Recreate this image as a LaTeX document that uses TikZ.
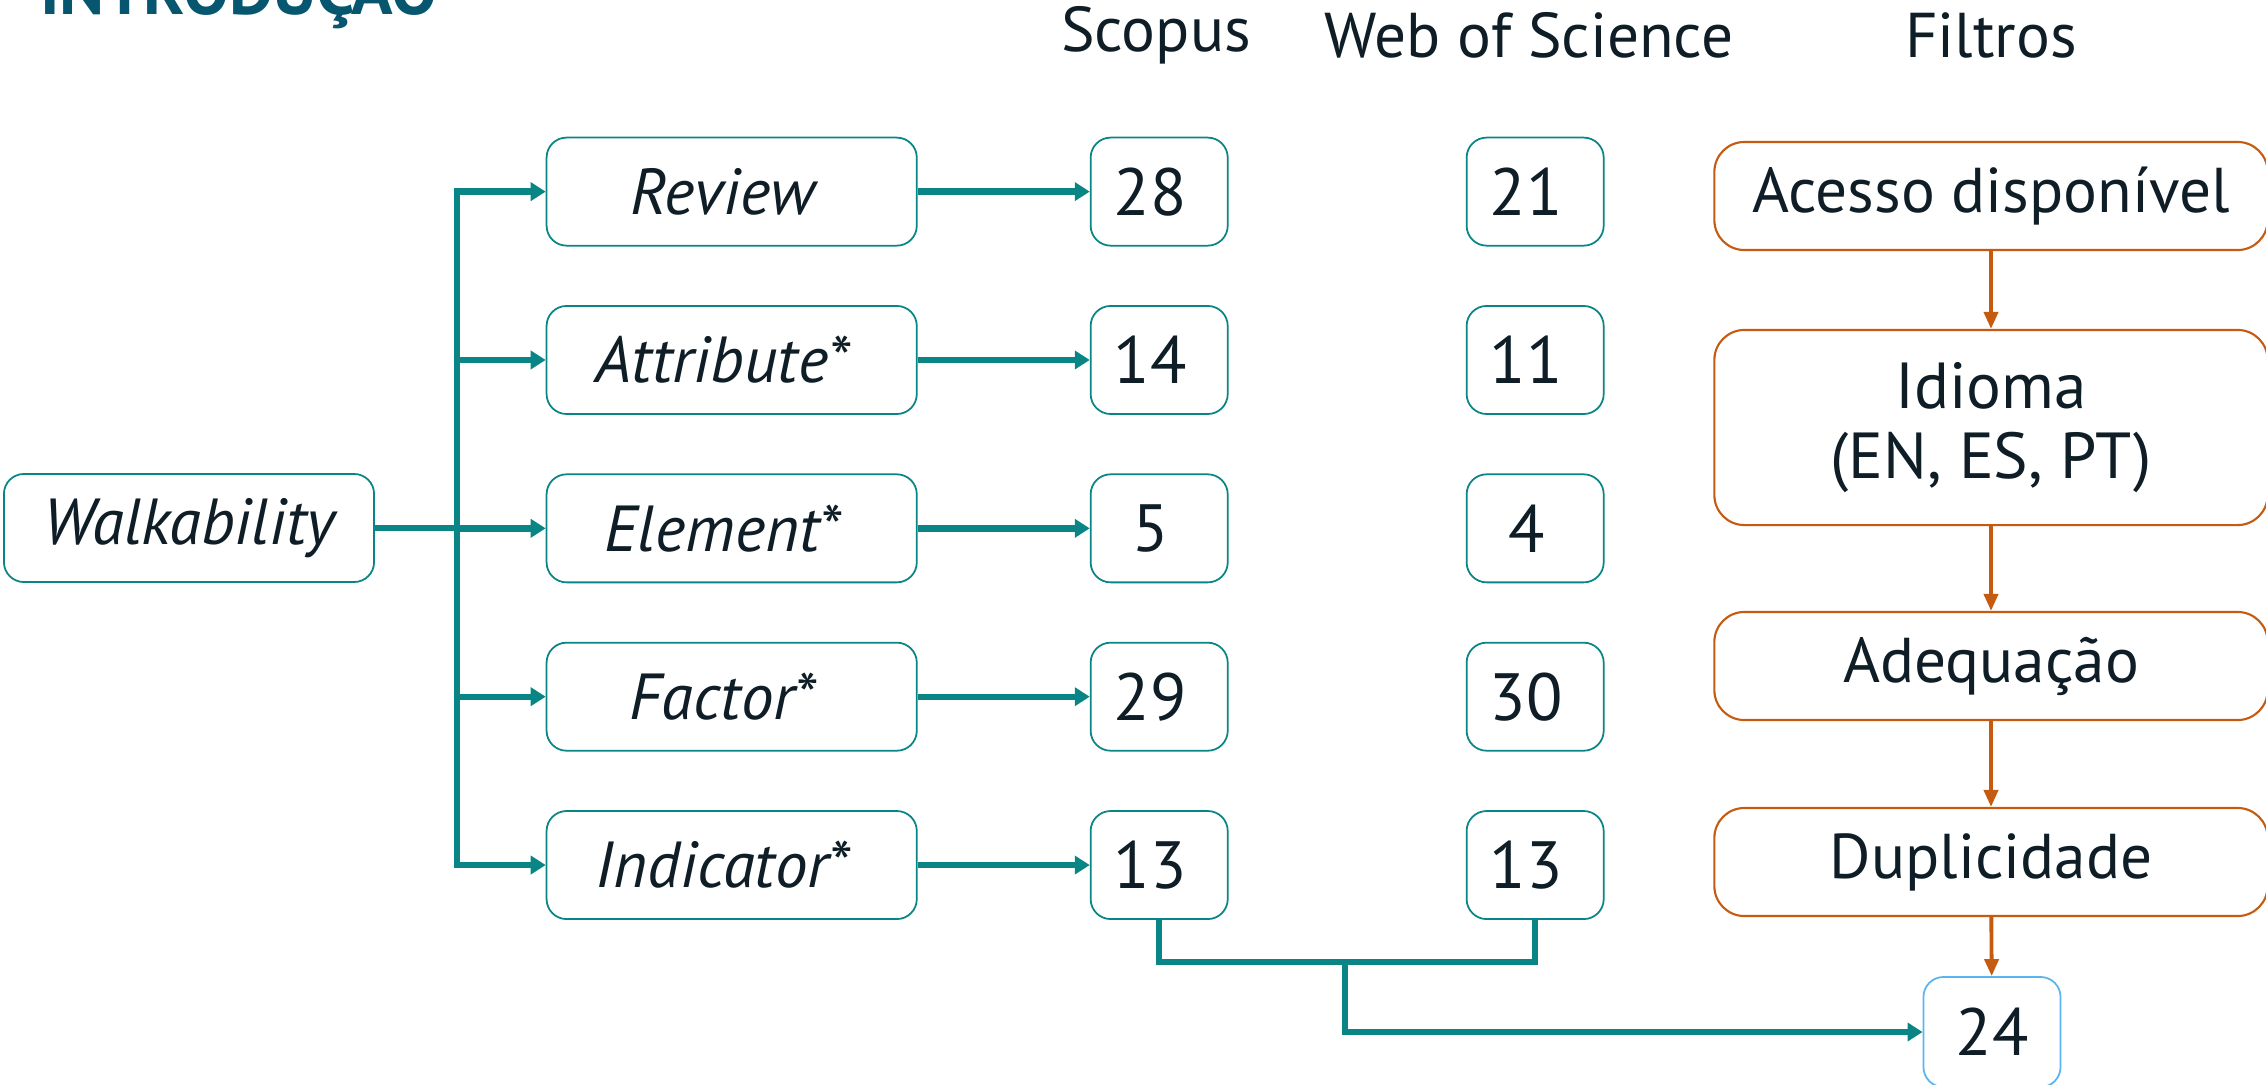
\documentclass[tikz,border=0pt]{standalone}
\usepackage{fontspec}
\setmainfont{PT Sans}
\usepackage{tikz}
\usetikzlibrary{matrix,arrows.meta}
\definecolor{tealline}{HTML}{0A8585}
\definecolor{filterline}{HTML}{C55A11}
\definecolor{resultline}{HTML}{5AB4F0}
\definecolor{ink}{HTML}{0E1D26}
\definecolor{titleblue}{HTML}{05566E}

\begin{document}
\begin{tikzpicture}[x=0.01cm, y=-0.01cm, font=\fontsize{18}{22}\selectfont, text=ink,
  box/.style={draw=tealline, line width=0.5pt, rounded corners=0.2cm, minimum height=1.08cm, align=center},
  termbox/.style={box, minimum width=3.7cm, font=\fontsize{18.5}{22}\selectfont\itshape},
  numbox/.style={box, minimum width=1.37cm, font=\fontsize{19}{22}\selectfont},
  filterbox/.style={draw=filterline, line width=0.6pt, rounded corners=0.3cm, minimum width=5.53cm, minimum height=1.08cm, align=center},
  link/.style={draw=tealline, line width=1.8pt},
  tealarrow/.style={link, -{Triangle[length=0.15cm, width=0.18cm]}},
  filterarrow/.style={draw=filterline, line width=1.1pt, -{Triangle[length=0.17cm, width=0.14cm]}}]
\useasboundingbox (0,0) rectangle (2266,1084);
\node[anchor=base west, font=\fontsize{19.5}{24}\selectfont\bfseries, text=titleblue] (H) at (28,14) {INTRODUÇÃO};
\node (S) at (1156,35) {Scopus};
\node (C) at (1529,35) {Web of Science};
\node (L) at (1991,35) {Filtros};
\matrix (M)[matrix of nodes, anchor=north west, inner sep=0pt, column sep=1.72cm, row sep=0.585cm, nodes={anchor=center, numbox}, column 1/.style={nodes={termbox}}] at (545,136) {
Review & 28 &[0.65cm] 21 \\
Attribute* & 14 & 11 \\
Element* & 5 & 4 \\
Factor* & 29 & 30 \\
Indicator* & 13 & 13 \\
};
\node[termbox] (W) at (189,528) {Walkability};
\node[filterbox] (F1) at (1991,196) {Acesso disponível};
\node[filterbox, minimum height=1.95cm, font=\fontsize{18.5}{20}\selectfont] (F2) at (1991,427.5) {Idioma\\(EN, ES, PT)};
\node[filterbox] (F3) at (1991,666) {Adequação};
\node[filterbox] (F4) at (1991,862) {Duplicidade};
\node[numbox, draw=resultline, minimum height=1.1cm] (R) at (1992,1032) {24};
\coordinate (T) at (457,528);
\coordinate (J) at (1345,962);
\draw[link] (W.east) -- (T);
\draw[link, line cap=rect] (T |- M-1-1.west) -- (T |- M-5-1.west);
\foreach \i in {1,...,5} {
  \draw[tealarrow] (T |- M-\i-1.west) -- (M-\i-1.west);
  \draw[tealarrow] (M-\i-1.east) -- (M-\i-2.west);
}
\draw[link] (M-5-2.south) |- (J) -| (M-5-3.south);
\draw[tealarrow] (J) |- (R.west);
\draw[filterarrow] (F1) -- (F2);
\draw[filterarrow] (F2) -- (F3);
\draw[filterarrow] (F3) -- (F4);
\draw[filterarrow] (F4) -- (R);
\end{tikzpicture}
\end{document}
